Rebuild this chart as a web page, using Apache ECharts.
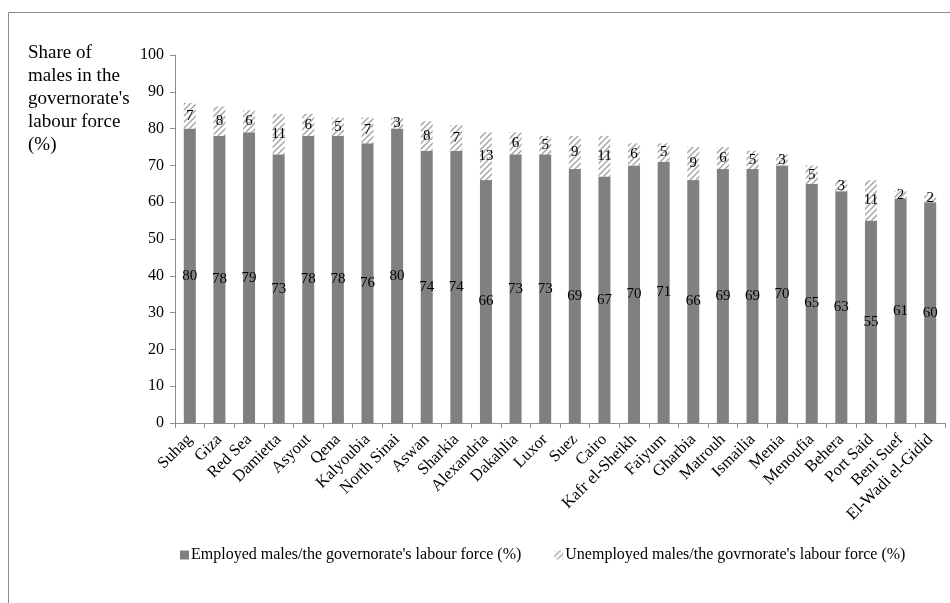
<!DOCTYPE html>
<html>
<head>
<meta charset="utf-8">
<style>
  html, body { margin: 0; padding: 0; background: #fff; }
  #chart { width: 950px; height: 603px; }
</style>
<script src="https://cdn.jsdelivr.net/npm/echarts@6/dist/echarts.min.js"></script>
</head>
<body>
<div id="chart"></div>
<script>
// Governorates, ordered by total male share of the labour force
var governorates = ['Suhag', 'Giza', 'Red Sea', 'Damietta', 'Asyout', 'Qena', 'Kalyoubia', 'North Sinai',
  'Aswan', 'Sharkia', 'Alexandria', 'Dakahlia', 'Luxor', 'Suez', 'Cairo', 'Kafr el-Sheikh', 'Faiyum',
  'Gharbia', 'Matrouh', 'Ismailia', 'Menia', 'Menoufia', 'Behera', 'Port Said', 'Beni Suef', 'El-Wadi el-Gidid'];

// Employed males / labour force (%)
var employedMales = [80, 78, 79, 73, 78, 78, 76, 80, 74, 74, 66, 73, 73, 69, 67, 70, 71, 66, 69, 69, 70, 65, 63, 55, 61, 60];

// Unemployed males / labour force (%)
var unemployedMales = [7, 8, 6, 11, 6, 5, 7, 3, 8, 7, 13, 6, 5, 9, 11, 6, 5, 9, 6, 5, 3, 5, 3, 11, 2, 2];

var yTicks = { min: 0, max: 100, interval: 10 };

var seriesNames = [
  'Employed males/the governorate\'s labour force (%)',
  'Unemployed males/the govrnorate\'s labour force (%)'
];

var FONT = '"Liberation Serif", "Times New Roman", serif';

// Diagonal hatch fill for the unemployed segment
function hatchPattern() {
  var s = 6;
  var c = document.createElement('canvas');
  c.width = s; c.height = s;
  var ctx = c.getContext('2d');
  ctx.fillStyle = '#ffffff';
  ctx.fillRect(0, 0, s, s);
  ctx.strokeStyle = '#a6a6a6';
  ctx.lineWidth = 1.5;
  ctx.beginPath();
  ctx.moveTo(-1, s + 1); ctx.lineTo(s + 1, -1);
  ctx.moveTo(-1, 1); ctx.lineTo(1, -1);
  ctx.moveTo(s - 1, s + 1); ctx.lineTo(s + 1, s - 1);
  ctx.stroke();
  return c;
}

var chart = echarts.init(document.getElementById('chart'), null, { renderer: 'canvas' });

chart.setOption({
  backgroundColor: '#ffffff',
  animation: false,
  textStyle: { fontFamily: FONT, color: '#000' },
  title: {
    text: 'Share of\nmales in the\ngovernorate\'s\nlabour force\n(%)',
    left: 23,
    top: 37,
    textStyle: { fontFamily: FONT, fontSize: 19, fontWeight: 'normal', color: '#000', lineHeight: 23 }
  },
  graphic: [
    { type: 'line', shape: { x1: 8.5, y1: 12.5, x2: 950, y2: 12.5 }, style: { stroke: '#8c8c8c', lineWidth: 1 } },
    { type: 'line', shape: { x1: 8.5, y1: 12.5, x2: 8.5, y2: 603 }, style: { stroke: '#8c8c8c', lineWidth: 1 } }
  ],
  legend: {
    left: 175,
    top: 542,
    itemWidth: 9,
    itemHeight: 9,
    itemGap: 33,
    icon: 'rect',
    textStyle: { fontFamily: FONT, fontSize: 16, color: '#000', padding: [0, 0, 0, -3] },
    data: seriesNames
  },
  grid: { left: 175, right: 5, top: 55, bottom: 180, containLabel: false },
  xAxis: {
    type: 'category',
    data: governorates,
    axisLine: { lineStyle: { color: '#8c8c8c', width: 1 } },
    axisTick: { show: true, alignWithLabel: false, length: 5, lineStyle: { color: '#8c8c8c' } },
    axisLabel: {
      interval: 0,
      rotate: 45,
      margin: 14,
      fontFamily: FONT,
      fontSize: 16.5,
      color: '#000'
    }
  },
  yAxis: {
    type: 'value',
    min: yTicks.min,
    max: yTicks.max,
    interval: yTicks.interval,
    axisLine: { show: true, lineStyle: { color: '#8c8c8c', width: 1 } },
    axisTick: { show: true, length: 5, lineStyle: { color: '#8c8c8c' } },
    splitLine: { show: false },
    axisLabel: { fontFamily: FONT, fontSize: 16, color: '#000', margin: 11 }
  },
  series: [
    {
      name: seriesNames[0],
      type: 'bar',
      stack: 'males',
      barWidth: 12,
      data: employedMales,
      itemStyle: { color: '#808083' },
      label: {
        show: true,
        position: 'inside',
        fontFamily: FONT,
        fontSize: 15,
        color: '#000'
      }
    },
    {
      name: seriesNames[1],
      type: 'bar',
      stack: 'males',
      barWidth: 12,
      data: unemployedMales,
      itemStyle: { color: { image: hatchPattern(), repeat: 'repeat' } },
      label: {
        show: true,
        position: 'inside',
        fontFamily: FONT,
        fontSize: 15,
        color: '#000'
      }
    }
  ]
});
</script>
</body>
</html>
